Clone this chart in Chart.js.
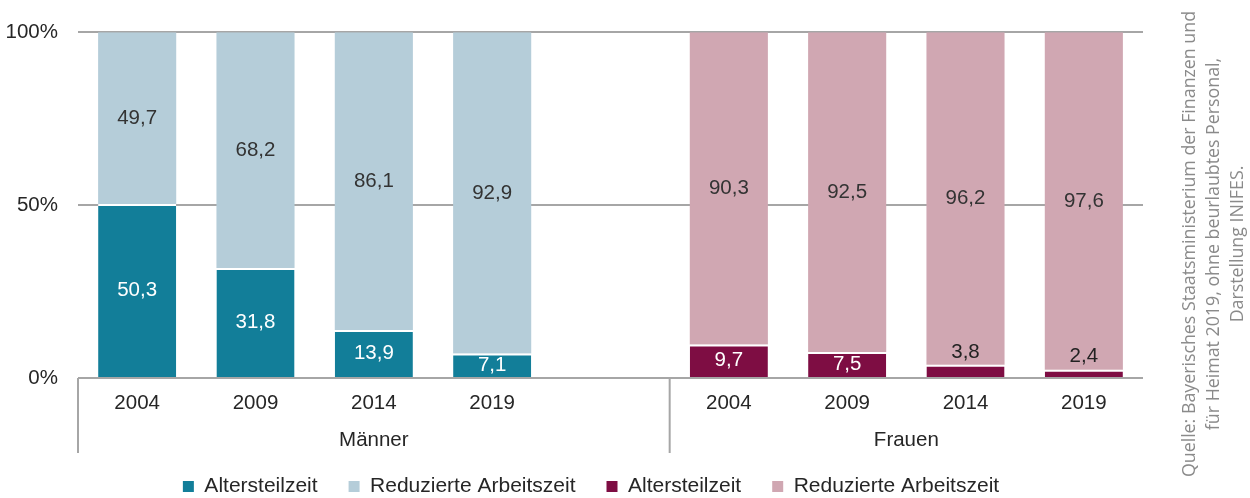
<!DOCTYPE html>
<html lang="de">
<head>
<meta charset="UTF-8" />
<title>Altersteilzeit und reduzierte Arbeitszeit</title>
<script src="https://cdn.jsdelivr.net/npm/chart.js"></script>
<style>
  html, body {
    margin: 0;
    padding: 0;
    background: #fff;
    overflow: hidden;
  }
  #wrap {
    position: relative;
    width: 1250px;
    height: 498px;
  }
  #chart {
    position: absolute;
    left: 0;
    top: 0;
  }
  #source {
    position: absolute;
    left: 962px;
    top: 208px;
    width: 500px;
    height: 72px;
    transform: rotate(-90deg);
    text-align: center;
    font-family: "Open Sans", sans-serif;
    font-size: 17.8px;
    line-height: 24px;
    color: #8a8a8a;
    white-space: nowrap;
  }
</style>
</head>
<body>
<div id="wrap">
  <canvas id="chart" width="1182" height="507"></canvas>
  <div id="source">Quelle: Bayerisches Staatsministerium der Finanzen und<br>für Heimat 2019, ohne beurlaubtes Personal,<br>Darstellung INIFES.</div>
</div>

<script>
  // years per group, one empty slot between the groups
  const labels = ['2004', '2009', '2014', '2019', '', '2004', '2009', '2014', '2019'];

  // values in percent
  const menAlters = [50.3, 31.8, 13.9, 7.1];
  const menReduziert = [49.7, 68.2, 86.1, 92.9];
  const womenAlters = [9.7, 7.5, 3.8, 2.4];
  const womenReduziert = [90.3, 92.5, 96.2, 97.6];

  const yStep = 50;

  const groups = [
    { label: 'Männer', from: 0, to: 4 },
    { label: 'Frauen', from: 5, to: 8 }
  ];

  const font = 'Liberation Sans, Arial, sans-serif';
  const lineGray = '#a6a6a6';
  const textDark = '#262626';

  const empty = [null, null, null, null];
  const men = vals => vals.concat([null], empty);
  const women = vals => empty.concat([null], vals);

  // white gap between the two segments = top border of the lower one
  const gapTop = { top: 2, right: 0, bottom: 0, left: 0 };

  const datasets = [
    { label: 'Altersteilzeit', data: men(menAlters), backgroundColor: '#127e99', labelColor: '#fff', borderWidth: gapTop },
    { label: 'Reduzierte Arbeitszeit', data: men(menReduziert), backgroundColor: '#b5cdd9', labelColor: '#333', borderWidth: 0 },
    { label: 'Altersteilzeit', data: women(womenAlters), backgroundColor: '#7e0d43', labelColor: '#fff', borderWidth: gapTop },
    { label: 'Reduzierte Arbeitszeit', data: women(womenReduziert), backgroundColor: '#d0a7b2', labelColor: '#333', borderWidth: 0 }
  ].map(d => Object.assign(d, {
    borderColor: '#fff',
    borderSkipped: false,
    barPercentage: 0.66,
    categoryPercentage: 1
  }));

  // numbers inside the segments, small ones go on top
  const valueLabels = {
    id: 'valueLabels',
    afterDatasetsDraw(chart) {
      const ctx = chart.ctx;
      ctx.save();
      ctx.font = '20.5px ' + font;
      ctx.textAlign = 'center';
      ctx.textBaseline = 'middle';
      chart.data.datasets.forEach((ds, i) => {
        const meta = chart.getDatasetMeta(i);
        meta.data.forEach((bar, j) => {
          const v = ds.data[j];
          if (v == null) return;
          const p = bar.getProps(['x', 'y', 'base'], true);
          const txt = v.toFixed(1).replace('.', ',');
          if (p.base - p.y < 20) {
            ctx.fillStyle = '#222';
            ctx.fillText(txt, p.x, p.y - 13);
          } else {
            ctx.fillStyle = ds.labelColor;
            ctx.fillText(txt, p.x, (p.y + p.base) / 2);
          }
        });
      });
      ctx.restore();
    }
  };

  // group separators and group names below the years
  const groupAxis = {
    id: 'groupAxis',
    afterDraw(chart) {
      const ctx = chart.ctx;
      const x = chart.scales.x;
      const half = (x.getPixelForValue(1) - x.getPixelForValue(0)) / 2;
      const bottom = chart.chartArea.bottom;
      ctx.save();
      ctx.strokeStyle = lineGray;
      ctx.lineWidth = 2;
      ctx.fillStyle = textDark;
      ctx.font = '20.5px ' + font;
      ctx.textAlign = 'center';
      ctx.textBaseline = 'middle';
      groups.forEach(g => {
        const left = x.getPixelForValue(g.from) - half;
        const right = x.getPixelForValue(g.to) + half;
        ctx.beginPath();
        ctx.moveTo(left, bottom);
        ctx.lineTo(left, bottom + 75);
        ctx.stroke();
        ctx.fillText(g.label, (left + right) / 2, bottom + 62);
      });
      ctx.restore();
    }
  };

  new Chart(document.getElementById('chart'), {
    type: 'bar',
    data: { labels: labels, datasets: datasets },
    options: {
      responsive: false,
      animation: false,
      layout: { padding: { top: 30, left: 0, right: 0, bottom: 0 } },
      plugins: {
        tooltip: { enabled: false },
        legend: {
          position: 'bottom',
          labels: {
            color: textDark,
            font: { family: font, size: 21 },
            boxWidth: 11,
            boxHeight: 11,
            padding: 31,
            generateLabels(chart) {
              const items = Chart.defaults.plugins.legend.labels.generateLabels(chart);
              items.forEach(it => { it.lineWidth = 0; });
              return items;
            }
          }
        }
      },
      scales: {
        x: {
          stacked: true,
          grid: { display: false, drawTicks: false },
          border: { display: false },
          ticks: {
            color: textDark,
            font: { family: font, size: 20.5 },
            padding: 13,
            maxRotation: 0,
            autoSkip: false
          },
          afterFit(scale) { scale.height = 67; }
        },
        y: {
          stacked: true,
          min: 0,
          max: 100,
          grid: { color: lineGray, lineWidth: 2, drawTicks: false },
          border: { display: false },
          ticks: {
            stepSize: yStep,
            color: textDark,
            font: { family: font, size: 20.5 },
            padding: 20,
            callback: v => v + '%'
          },
          afterFit(scale) { scale.width = 78; }
        },
        // empty axis on the right, only keeps space so the legend sits where it should
        yRight: {
          type: 'linear',
          position: 'right',
          min: 0,
          max: 100,
          grid: { display: false, drawTicks: false },
          border: { display: false },
          ticks: { display: false },
          afterFit(scale) { scale.width = 39; }
        }
      }
    },
    plugins: [valueLabels, groupAxis]
  });
</script>
</body>
</html>
